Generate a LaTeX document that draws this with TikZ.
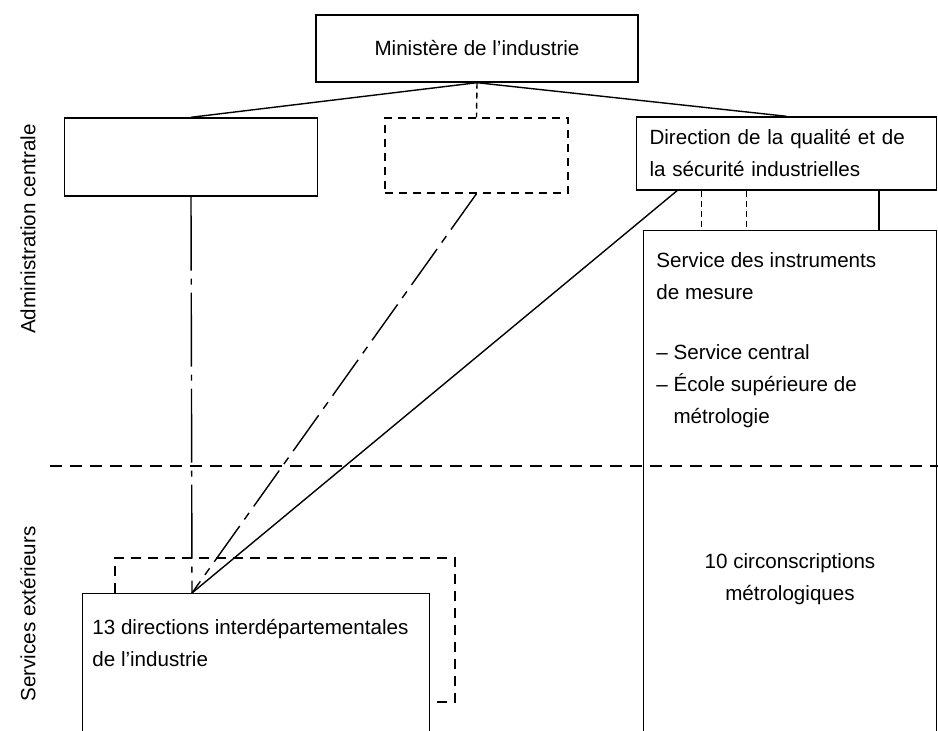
\documentclass[tikz,border=0pt]{standalone}
\usepackage{fontspec}
\newfontfamily\organi{Liberation Sans}
\usetikzlibrary{positioning, calc}
\newcommand{\corps}{\organi\fontsize{10.3}{16}\selectfont}
\tikzset{
  boite/.style={rectangle, draw, line width=0.7pt, inner sep=0pt},
  boitept/.style={boite, dash pattern=on 4pt off 3pt},
  texte/.style={font=\corps, align=left, inner sep=0pt},
  lien/.style={line width=0.7pt},
  lienpt/.style={lien, dash pattern=on 3pt off 2pt},
  lientiret/.style={lien, dash pattern=on 37pt off 4pt on 3pt off 4pt},
  lienmixte/.style={lien, dash pattern=on 22pt off 4pt on 4pt off 4pt},
  frontiere/.style={lien, dash pattern=on 6pt off 4pt}
}
\begin{document}
\begin{tikzpicture}[x=0.5pt, y=-0.5pt]
    \clip (0,0) rectangle (938,731);
    % administration centrale
    \node[boite, font=\corps, minimum width=161pt, minimum height=33.5pt]
      (ministere) at (477,48.5) {Ministère de l’industrie};
    \node[boite, minimum width=126.5pt, minimum height=39pt] (gauche) at (191,157) {};
    \node[boitept, minimum width=91.5pt, minimum height=37.5pt] (milieu) at (476.5,155.5) {};
    \node[boite, texte, text width=137pt, inner xsep=6.5pt, minimum height=36.5pt]
      (direction) at (786.5,153.5)
      {Direction de la qualité et de\\la sécurité industrielles};
    \node[boite, anchor=north west, minimum width=146.5pt, minimum height=300pt]
      (service) at (643,230) {};
    \node[texte, below right=11pt and 6.5pt of service.north west] (sim)
      {Service des instruments\\de mesure\\[14pt]
       – Service central\\– École supérieure de\\\phantom{– }métrologie};
    % services exterieurs
    \node[texte, align=center] (circ) at (790,579)
      {10 circonscriptions\\métrologiques};
    \node[boite, anchor=north west, minimum width=173.5pt, minimum height=200pt]
      (dirint) at (82,593) {};
    \node[texte, below right=13pt and 5pt of dirint.north west] (dirinttexte)
      {13 directions interdépartementales\\de l’industrie};
    \draw[lien, dash pattern=on 5pt off 3.5pt]
      (115,593) -- (115,558) -- (455,558) -- (455,702) -- (429,702);
    \coordinate (convergence) at (192,593);
    % cotes
    \node[texte, rotate=90] (admin) at (28,229) {Administration centrale};
    \node[texte, rotate=90] (exter) at (28,614) {Services extérieurs};
    \draw[frontiere] (50,466) -- (938,466);
    % liaisons
    \draw[lien] (ministere.south) -- (gauche.north);
    \draw[lien] (ministere.south) -- (direction.north);
    \draw[lienpt] (ministere.south) -- (milieu.north);
    \draw[lientiret] (gauche.south) -- (convergence);
    \draw[lienmixte] (milieu.south) -- (convergence);
    \draw[lien] ($(direction.south west)!0.137!(direction.south east)$) -- (convergence);
    \draw[lienpt] ($(direction.south west)!0.217!(direction.south east)$) coordinate (d1)
      -- (d1 |- service.north);
    \draw[lienpt] ($(direction.south west)!0.367!(direction.south east)$) coordinate (d2)
      -- (d2 |- service.north);
    \draw[lien] ($(direction.south west)!0.807!(direction.south east)$) coordinate (d3)
      -- (d3 |- service.north);
\end{tikzpicture}
\end{document}
